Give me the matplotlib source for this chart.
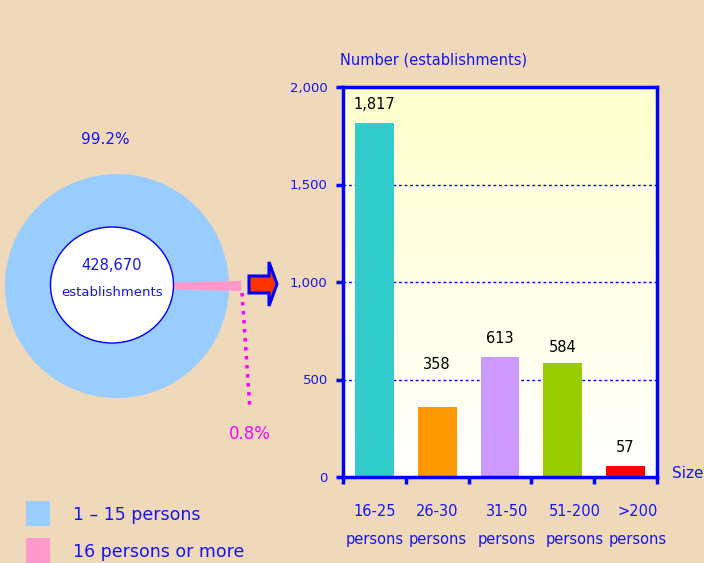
import numpy as np
import matplotlib.pyplot as plt
from matplotlib.patches import Ellipse, Polygon, Rectangle

# data
pie_labels = ['1 \u2013 15 persons', '16 persons or more']
pie_shares = [99.2, 0.8]
total_est = 428670

size_groups = ['16-25\npersons', '26-30\npersons', '31-50\npersons',
               '51-200\npersons', '>200\npersons']
counts = [1817, 358, 613, 584, 57]

# styles
bg = '#EFD9BA'
blue_txt = '#1515F0'
pie_colors = ['#99CCFF', '#FF99CC']
bar_colors = ['#33CCCC', '#FF9900', '#CC99FF', '#99CC00', '#FF0000']
label_offsets = [8, 25, 8, 6, 8]          # points above bar
xlabel_shift = [0, 0, 0.11, 0.19, 0.2]    # category units

fig = plt.figure(figsize=(7.04, 5.63), dpi=100, facecolor=bg)

# ---- left side: pie drawn in pixel coordinates ----
ov = fig.add_axes([0, 0, 1, 1])
pink_half = pie_shares[1] / 100 * 360 / 2
wedges, _ = ov.pie(pie_shares, colors=pie_colors, startangle=pink_half,
                   radius=112, center=(117, 286), frame=True,
                   wedgeprops=dict(linewidth=0))
wedges[1].set_radius(122)
wedges[1].set_edgecolor(pie_colors[1])
wedges[1].set_linewidth(3)
ov.set_xlim(0, 704)
ov.set_ylim(563, 0)
ov.set_aspect('equal')
ov.axis('off')

ov.add_patch(Ellipse((112, 285), 123, 116, facecolor='white',
                     edgecolor='blue', lw=1, zorder=5))
ov.text(112, 266, f'{total_est:,}', color=blue_txt, fontsize=10.5,
        ha='center', va='center', zorder=6)
ov.text(112, 293, 'establishments', color=blue_txt, fontsize=9.5,
        ha='center', va='center', zorder=6)
ov.text(105, 140, f'{pie_shares[0]}%', color=blue_txt, fontsize=11,
        ha='center', va='center')
ov.text(250, 434, f'{pie_shares[1]}%', color='#FF00FF', fontsize=12,
        ha='center', va='center')
ov.plot([242, 250], [293, 410], color='#FF00FF', lw=2.5, ls=(0, (1, 1.6)))

arrow = [(249, 276), (269, 276), (269, 262), (277, 284), (269, 306),
         (269, 293), (249, 293)]
ov.add_patch(Polygon(arrow, closed=True, facecolor='#FF3300',
                     edgecolor='blue', lw=2.2, zorder=6))

# legend
for i, (lab, col) in enumerate(zip(pie_labels, pie_colors)):
    y0 = 501 + i * 37
    ov.add_patch(Rectangle((26, y0), 24, 25, facecolor=col, lw=0))
    ov.text(73, y0 + 14, lab, color=blue_txt, fontsize=12.5, va='center')

# ---- right side: bar chart ----
ax = fig.add_axes([343 / 704, 1 - 477 / 563, 314 / 704, 390 / 563])
x = np.arange(len(counts)) + 0.5
grad = np.linspace(1, 0, 256).reshape(-1, 1)
top = np.array([255, 255, 204]) / 255
bot = np.array([255, 255, 255]) / 255
img = top * grad[..., None] + bot * (1 - grad[..., None])
ax.imshow(img, extent=[0, 5, 0, 2000], aspect='auto', zorder=0)

ax.bar(x, counts, width=0.62, color=bar_colors, zorder=2)
for xi, v, off in zip(x, counts, label_offsets):
    ax.annotate(f'{v:,}', (xi, v), xytext=(0, off), textcoords='offset points',
                ha='center', va='bottom', fontsize=10.5, color='black')

ax.set_xlim(0, 5)
ax.set_ylim(0, 2000)
ax.set_yticks([0, 500, 1000, 1500, 2000])
ax.set_yticklabels([f'{t:,}' for t in [0, 500, 1000, 1500, 2000]])
ax.set_xticks(np.arange(6))
ax.set_xticklabels([])
ax.yaxis.grid(True, color='blue', lw=1, ls=(0, (2, 2)), zorder=1)
ax.set_axisbelow(True)
for s in ax.spines.values():
    s.set_color('blue')
    s.set_linewidth(2.5)
    s.set_zorder(4)
ax.tick_params(colors='blue', labelcolor=blue_txt, direction='out',
               length=5, width=2.5, labelsize=9.5, pad=6)

for xi, lab, sh in zip(x, size_groups, xlabel_shift):
    ax.text(xi + sh, -0.07, lab, transform=ax.get_xaxis_transform(),
            ha='center', va='top', fontsize=10.5, color=blue_txt,
            linespacing=2.05)

fig.text(340 / 704, 1 - 60 / 563, 'Number (establishments)', color=blue_txt,
         fontsize=10.5, ha='left', va='center')
fig.text(672 / 704, 1 - 474 / 563, 'Size', color=blue_txt, fontsize=11,
         ha='left', va='center')

fig.savefig('out.png', dpi=100, facecolor=bg)
